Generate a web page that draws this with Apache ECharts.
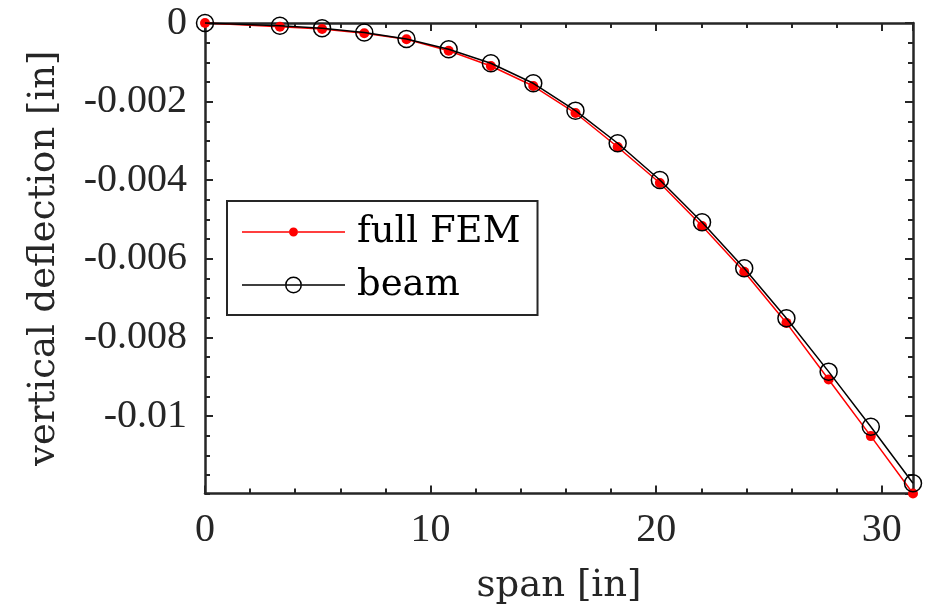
<!DOCTYPE html>
<html><head><meta charset="utf-8">
<script src="https://cdn.jsdelivr.net/npm/echarts@6/dist/echarts.min.js"></script>
<style>html,body{margin:0;padding:0;background:#fff}#c{width:941px;height:616px}</style>
</head><body><div id="c"></div>
<script>
// ---- data ----
const span = [0, 3.32, 5.19, 7.06, 8.93, 10.80, 12.67, 14.55, 16.42, 18.29, 20.16, 22.03, 23.90, 25.77, 27.64, 29.51, 31.38];
const fullFEM = [0, -0.000094, -0.000153, -0.000262, -0.000415, -0.000705, -0.001094, -0.001603, -0.00229, -0.003155, -0.00407, -0.005165, -0.00633, -0.00763, -0.00907, -0.01051, -0.01197];
const beam = [0, -0.000069, -0.000135, -0.000242, -0.000407, -0.000669, -0.001025, -0.001534, -0.00223, -0.00306, -0.003995, -0.00507, -0.00624, -0.00751, -0.00887, -0.01027, -0.01171];
const xTickLabels = ['0', '10', '20', '30'];
const yTickLabels = ['0', '-0.002', '-0.004', '-0.006', '-0.008', '-0.01'];
const seriesNames = ['full FEM', 'beam'];

// ---- style ----
const AX = '#262626';
const FONT = 'Liberation Serif';
const FONT2 = 'DejaVu Serif';
const FS = 40;
const FS2 = 37;
const xMin = 0, xMax = span[span.length - 1];
const yMax = 0, yMin = Math.min(...fullFEM, ...beam);

const fmtX = v => { const s = String(+v.toFixed(6)); return xTickLabels.includes(s) ? s : ''; };
const fmtY = v => { let s = String(+v.toFixed(6)); if (s === '-0') s = '0'; return yTickLabels.includes(s) ? s : ''; };

const gridRect = { left: 205, right: 28, top: 23, bottom: 122.5 };

function xAxis(grid, pos, split, tickLen, withLine, withLabel) {
  const a = {
    type: 'value', gridIndex: grid, position: pos, min: xMin, max: xMax, splitNumber: split,
    axisLine: { show: withLine, onZero: false, lineStyle: { color: AX, width: 2.5 } },
    axisTick: { show: true, inside: true, length: tickLen, lineStyle: { color: AX, width: 2 } },
    splitLine: { show: false },
    axisLabel: { show: withLabel, margin: 17, color: AX, fontFamily: FONT, fontSize: FS, formatter: fmtX, showMaxLabel: false }
  };
  if (withLabel) {
    a.name = 'span [in]';
    a.nameLocation = 'middle';
    a.nameGap = 74;
    a.nameTextStyle = { color: AX, fontFamily: FONT2, fontSize: FS2 };
  }
  return a;
}
function yAxis(grid, pos, split, tickLen, withLine, withLabel) {
  const a = {
    type: 'value', gridIndex: grid, position: pos, min: yMin, max: yMax, splitNumber: split,
    axisLine: { show: withLine, onZero: false, lineStyle: { color: AX, width: 2.5 } },
    axisTick: { show: true, inside: true, length: tickLen, lineStyle: { color: AX, width: 2 } },
    splitLine: { show: false },
    axisLabel: { show: withLabel, margin: 18, color: AX, fontFamily: FONT, fontSize: FS, formatter: fmtY, showMinLabel: false }
  };
  if (withLabel) {
    a.name = 'vertical deflection [in]';
    a.nameLocation = 'middle';
    a.nameGap = 142;
    a.nameTextStyle = { color: AX, fontFamily: FONT2, fontSize: FS2 };
  }
  return a;
}

const redIcon = 'path://M0,3.75L47,3.75L47,5.25L0,5.25Z M56,3.75L103,3.75L103,5.25L56,5.25Z M47,4.5A4.5,4.5,0,1,1,56,4.5A4.5,4.5,0,1,1,47,4.5Z';
const blackIcon = 'path://M0,7.75L43,7.75L43,9.25L0,9.25Z M60,7.75L103,7.75L103,9.25L60,9.25Z M44.6,7.75L58.4,7.75L58.4,9.25L44.6,9.25Z M43,8.5A8.5,8.5,0,1,1,60,8.5A8.5,8.5,0,1,1,43,8.5Z M44.5,8.5A7,7,0,1,0,58.5,8.5A7,7,0,1,0,44.5,8.5Z';

const chart = echarts.init(document.getElementById('c'), null, { renderer: 'canvas' });
chart.setOption({
  animation: false,
  backgroundColor: '#fff',
  grid: [Object.assign({}, gridRect), Object.assign({}, gridRect)],
  xAxis: [
    xAxis(0, 'bottom', 3, 8, true, true),
    xAxis(0, 'top', 3, 8, true, false),
    xAxis(1, 'bottom', 16, 5, false, false),
    xAxis(1, 'top', 16, 5, false, false)
  ],
  yAxis: [
    yAxis(0, 'left', 6, 8, true, true),
    yAxis(0, 'right', 6, 8, true, false),
    yAxis(1, 'left', 24, 5, false, false),
    yAxis(1, 'right', 24, 5, false, false)
  ],
  legend: {
    orient: 'vertical', left: 227, top: 201,
    padding: [11, 17, 10, 15],
    itemWidth: 103, itemHeight: 17, itemGap: 13,
    backgroundColor: '#fff', borderColor: AX, borderWidth: 2, borderRadius: 0,
    textStyle: { fontFamily: FONT2, fontSize: FS2, color: '#000', lineHeight: 40, padding: [0, 0, 0, 7] },
    data: [
      { name: seriesNames[0], icon: redIcon, itemStyle: { color: '#ff0000', borderWidth: 0 } },
      { name: seriesNames[1], icon: blackIcon, itemStyle: { color: '#000000', borderWidth: 0 } }
    ]
  },
  series: [
    {
      type: 'line', name: seriesNames[0], xAxisIndex: 0, yAxisIndex: 0,
      data: span.map((x, i) => [x, fullFEM[i]]),
      symbol: 'circle', symbolSize: 10, clip: false, z: 3,
      itemStyle: { color: '#ff0000' },
      lineStyle: { color: '#ff0000', width: 1.5 },
      emphasis: { disabled: true }
    },
    {
      type: 'line', name: seriesNames[1], xAxisIndex: 0, yAxisIndex: 0,
      data: span.map((x, i) => [x, beam[i]]),
      symbol: 'circle', symbolSize: 17, clip: false, z: 4,
      itemStyle: { color: 'rgba(0,0,0,0)', borderColor: '#000', borderWidth: 1.5 },
      lineStyle: { color: '#000', width: 1.5 },
      emphasis: { disabled: true }
    }
  ]
});
</script></body></html>
